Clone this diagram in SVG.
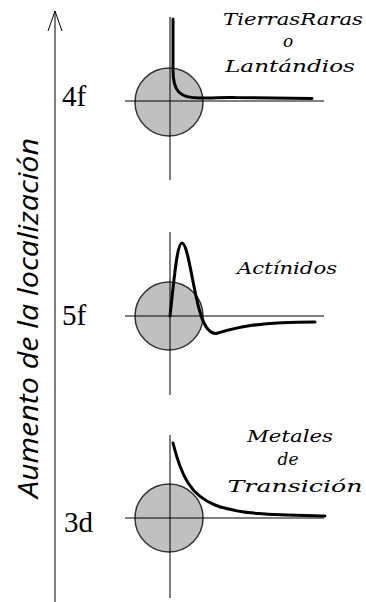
<svg xmlns="http://www.w3.org/2000/svg" width="366" height="602" viewBox="0 0 366 602">
<style>
.axis{stroke:#000;stroke-width:1;fill:none}
.core{fill:#c0c0c0;stroke:#333;stroke-width:1.5}
.fn{fill:none;stroke:#000;stroke-width:3;stroke-linecap:round;stroke-linejoin:round}
.lvl{font-family:"Liberation Serif",serif;font-size:29px;fill:#000}
.cap{font-family:"DejaVu Serif","Liberation Serif",serif;font-style:italic;font-size:17px;fill:#000;text-anchor:middle}
.ylab{font-family:"Open Sans","Noto Sans",sans-serif;font-style:italic;font-size:27px;fill:#000;text-anchor:middle}
</style>
<rect width="366" height="602" fill="#fff"/>
<g id="connectors">
<line class="axis" x1="55" y1="11" x2="55" y2="602"/>
<polyline class="axis" points="48,31 55,11 62,31" stroke-width="1.5"/>
</g>
<text class="ylab" transform="translate(38,318) rotate(-90)" textLength="360" lengthAdjust="spacingAndGlyphs">Aumento de la localización</text>
<g id="n4f">
<circle class="core" cx="169" cy="102" r="34"/>
<line class="axis" x1="125" y1="101" x2="324" y2="101"/>
<line class="axis" x1="170" y1="17" x2="170" y2="180"/>
<path class="fn" d="M173,19 L173,70 C173,92 180,98 200,98 C215,98 225,97 235,97.5 L312,98.5"/>
<text class="lvl" x="62" y="106">4f</text>
<text class="cap" x="293" y="25" textLength="140" lengthAdjust="spacingAndGlyphs">TierrasRaras</text>
<text class="cap" x="288" y="47">o</text>
<text class="cap" x="290" y="72" textLength="130" lengthAdjust="spacingAndGlyphs">Lantándios</text>
</g>
<g id="n5f">
<circle class="core" cx="169" cy="316" r="34"/>
<line class="axis" x1="125" y1="316" x2="324" y2="316"/>
<line class="axis" x1="170" y1="232" x2="170" y2="395"/>
<path class="fn" d="M170,316 C174,280 177,243 182,243 C188,243 193,290 200,312 C205,330 212,335 218,333 C235,328 255,322 315,322"/>
<text class="lvl" x="62" y="325">5f</text>
<text class="cap" x="287" y="274" textLength="100" lengthAdjust="spacingAndGlyphs">Actínidos</text>
</g>
<g id="n3d">
<circle class="core" cx="169" cy="518" r="34"/>
<line class="axis" x1="125" y1="518" x2="324" y2="518"/>
<line class="axis" x1="170" y1="435" x2="170" y2="598"/>
<path class="fn" d="M173,443 C181,475 190,495 215,505 S280,515 325,516"/>
<text class="lvl" x="64" y="532">3d</text>
<text class="cap" x="290" y="442" textLength="86" lengthAdjust="spacingAndGlyphs">Metales</text>
<text class="cap" x="288" y="465">de</text>
<text class="cap" x="295" y="492" textLength="135" lengthAdjust="spacingAndGlyphs">Transición</text>
</g>
</svg>
